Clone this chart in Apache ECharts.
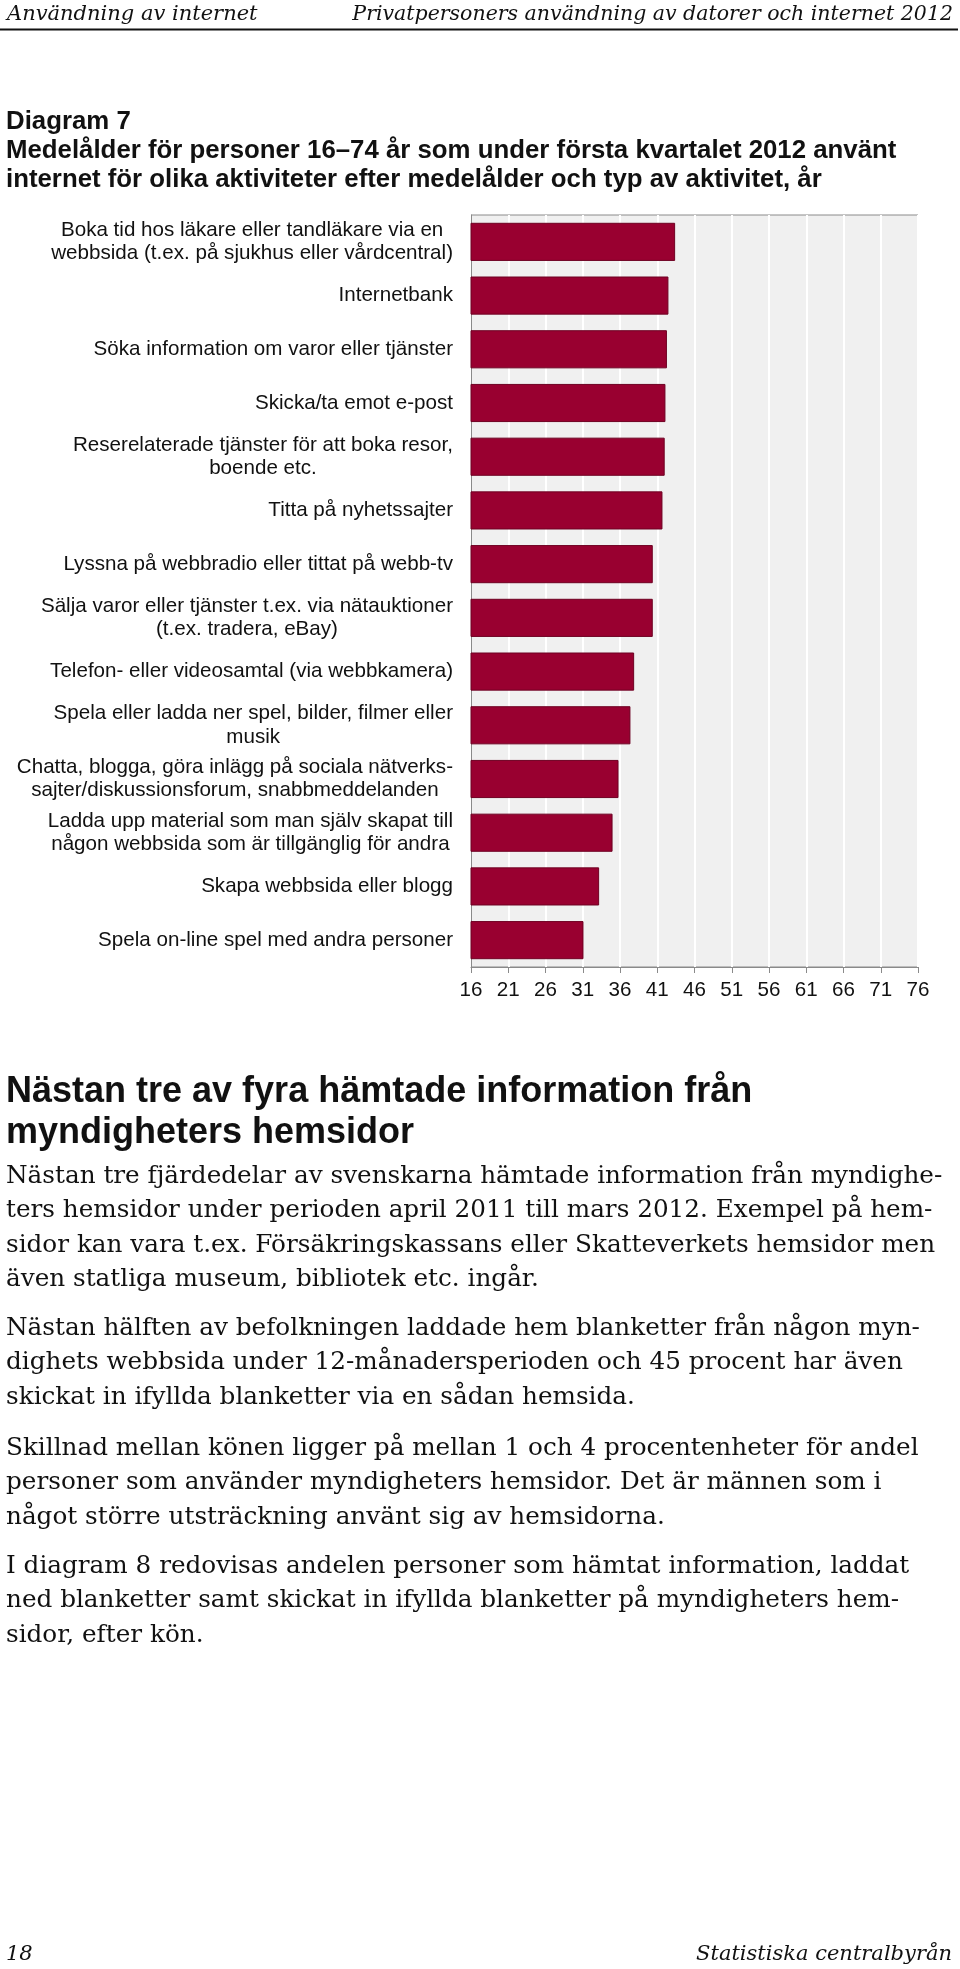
<!DOCTYPE html>
<html>
<head>
<meta charset="utf-8">
<script src="https://cdn.jsdelivr.net/npm/echarts@6/dist/echarts.min.js"></script>
<style>
html, body { margin: 0; padding: 0; background: #fff; }
#page { width: 960px; height: 1969px; }
</style>
</head>
<body>
<div id="page"></div>
<script>
// activities, top to bottom as in the diagram
const activities = [
  'Boka tid hos läkare eller tandläkare via en\nwebbsida (t.ex. på sjukhus eller vårdcentral)',
  'Internetbank',
  'Söka information om varor eller tjänster',
  'Skicka/ta emot e-post',
  'Reserelaterade tjänster för att boka resor,\nboende etc.',
  'Titta på nyhetssajter',
  'Lyssna på webbradio eller tittat på webb-tv',
  'Sälja varor eller tjänster t.ex. via nätauktioner\n(t.ex. tradera, eBay)',
  'Telefon- eller videosamtal (via webbkamera)',
  'Spela eller ladda ner spel, bilder, filmer eller\nmusik',
  'Chatta, blogga, göra inlägg på sociala nätverks-\nsajter/diskussionsforum, snabbmeddelanden',
  'Ladda upp material som man själv skapat till\nnågon webbsida som är tillgänglig för andra',
  'Skapa webbsida eller blogg',
  'Spela on-line spel med andra personer'
]
// mean age (år)
const meanAge = [43.4, 42.5, 42.3, 42.1, 42.0, 41.7, 40.4, 40.4, 37.9, 37.4, 35.8, 35.0, 33.2, 31.1]
// x axis ticks: 16, 21, ... 76
const ageMin = 16
const ageMax = 76
const ageStep = 5

const headerLeft = 'Användning av internet'
const headerRight = 'Privatpersoners användning av datorer och internet 2012'
const titleLines = [
  'Diagram 7',
  'Medelålder för personer 16–74 år som under första kvartalet 2012 använt',
  'internet för olika aktiviteter efter medelålder och typ av aktivitet, år',
]
const headingLines = [
  'Nästan tre av fyra hämtade information från',
  'myndigheters hemsidor',
]
const paragraphs = [
  [
    'Nästan tre fjärdedelar av svenskarna hämtade information från myndighe-',
    'ters hemsidor under perioden april 2011 till mars 2012. Exempel på hem-',
    'sidor kan vara t.ex. Försäkringskassans eller Skatteverkets hemsidor men',
    'även statliga museum, bibliotek etc. ingår.',
  ],
  [
    'Nästan hälften av befolkningen laddade hem blanketter från någon myn-',
    'dighets webbsida under 12-månadersperioden och 45 procent har även',
    'skickat in ifyllda blanketter via en sådan hemsida.',
  ],
  [
    'Skillnad mellan könen ligger på mellan 1 och 4 procentenheter för andel',
    'personer som använder myndigheters hemsidor. Det är männen som i',
    'något större utsträckning använt sig av hemsidorna.',
  ],
  [
    'I diagram 8 redovisas andelen personer som hämtat information, laddat',
    'ned blanketter samt skickat in ifyllda blanketter på myndigheters hem-',
    'sidor, efter kön.',
  ],
]
const paragraphTops = [1184, 1336, 1456, 1574] // baseline of first line
const footerLeft = '18'
const footerRight = 'Statistiska centralbyrån'

const sans = '"Liberation Sans", Arial, sans-serif'
const serif = '"DejaVu Serif", serif'

function txt(text, x, baseline, size, font, opts) {
  opts = opts || {}
  const align = opts.align || 'left'
  return {
    type: 'text',
    x: x,
    y: baseline - size * 0.3,
    silent: true,
    style: {
      text: text,
      font: (opts.style || '') + ' ' + (opts.weight || 'normal') + ' ' + size + 'px ' + font,
      fill: opts.color || '#111',
      align: align,
      textAlign: align,
      verticalAlign: 'middle',
      textVerticalAlign: 'middle',
    },
  }
}

const graphics = []
graphics.push(txt(headerLeft, 7, 20.5, 21, serif, { style: 'italic' }))
graphics.push(txt(headerRight, 953, 20.5, 20.5, serif, { style: 'italic', align: 'right' }))
graphics.push({
  type: 'line',
  silent: true,
  shape: { x1: 0, y1: 29.5, x2: 958, y2: 29.5 },
  style: { stroke: '#111', lineWidth: 2 },
})
titleLines.forEach((t, i) => {
  graphics.push(txt(t, 6, 130 + i * 28.6, 25.8, sans, { weight: 'bold' }))
})
headingLines.forEach((t, i) => {
  graphics.push(txt(t, 6, 1103 + i * 40.5, 36, sans, { weight: 'bold' }))
})
paragraphs.forEach((p, pi) => {
  p.forEach((line, li) => {
    graphics.push(txt(line, 6, paragraphTops[pi] + li * 34.3, 24.7, serif))
  })
})
graphics.push(txt(footerLeft, 6, 1961, 21, serif, { style: 'italic' }))
graphics.push(txt(footerRight, 952, 1961, 21, serif, { style: 'italic', align: 'right' }))

const chart = echarts.init(document.getElementById('page'))

const option = {
  animation: false,
  backgroundColor: '#fff',
  grid: {
    left: 471,
    right: 42,
    top: 215,
    bottom: 1002,
    show: true,
    backgroundColor: '#f0f0f0',
    borderColor: '#8a8a8a',
    borderWidth: 1,
  },
  xAxis: {
    type: 'value',
    min: ageMin,
    max: ageMax,
    interval: ageStep,
    axisLine: { show: true, lineStyle: { color: '#8a8a8a', width: 1 } },
    axisTick: { show: true, length: 6, lineStyle: { color: '#8a8a8a' } },
    splitLine: { show: true, lineStyle: { color: '#ffffff', width: 2 } },
    axisLabel: {
      margin: 13,
      fontSize: 20.6,
      fontFamily: sans,
      color: '#111',
    },
  },
  yAxis: {
    type: 'category',
    inverse: true,
    data: activities,
    axisLine: { show: true, lineStyle: { color: '#8a8a8a', width: 1 } },
    axisTick: { show: false },
    splitLine: { show: false },
    axisLabel: {
      margin: 18,
      align: 'right',
      interval: 0,
      formatter: (v) => v.split('\n').map((s) => '{c|' + s + '}').join('\n'),
      rich: {
        c: {
          align: 'center',
          fontSize: 20.6,
          fontFamily: sans,
          color: '#111',
          lineHeight: 23.5,
        },
      },
    },
  },
  series: [
    {
      type: 'bar',
      data: meanAge,
      barWidth: '71%',
      itemStyle: {
        color: '#990030',
        borderColor: '#6e0022',
        borderWidth: 1,
      },
    },
  ],
  graphic: graphics,
}

chart.setOption(option)
</script>
</body>
</html>
